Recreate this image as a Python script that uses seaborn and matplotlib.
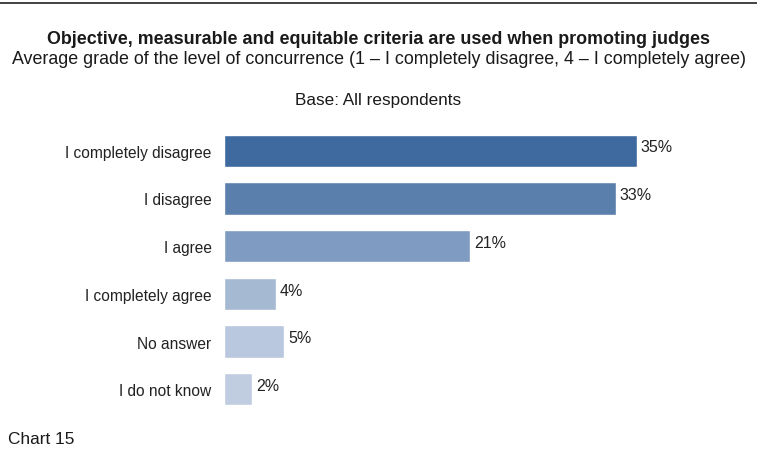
import matplotlib
matplotlib.use("Agg")
import matplotlib.pyplot as plt
import seaborn as sns
import pandas as pd

# data
answers = ["I completely disagree", "I disagree", "I agree",
           "I completely agree", "No answer", "I do not know"]
shares = [35.0, 33.2, 20.9, 4.4, 5.1, 2.4]
bar_colors = ["#3e6a9f", "#5b7fad", "#7f9bc1", "#a6b9d3", "#b9c8de", "#c0cde1"]

df = pd.DataFrame({"answer": answers, "share": shares})

sns.set_style("white")
plt.rcParams['font.family'] = ['Liberation Sans', 'DejaVu Sans']

fig = plt.figure(figsize=(7.57, 4.52), dpi=100)
ax = fig.add_axes([0.296, 0.084, 0.623, 0.633])

sns.barplot(data=df, x="share", y="answer", hue="answer", palette=bar_colors,
            legend=False, width=0.68, ax=ax, saturation=1)

for i, v in enumerate(shares):
    ax.text(v + 0.35, i - 0.08, f"{v:.0f}%", va="center", ha="left",
            fontsize=11.5, color="#222222")

ax.set_xlim(0, 40)
ax.set_ylim(5.5, -0.5)
ax.set_xlabel("")
ax.set_ylabel("")
ax.set_xticks([])
ax.tick_params(axis="y", length=0, pad=9, labelsize=11.2, labelcolor="#222222")
sns.despine(ax=ax, left=True, bottom=True)

# titles and frame line
fig.text(0.5, 1 - 40 / 452, "Objective, measurable and equitable criteria are used when promoting judges",
         ha="center", va="center", fontsize=12.9, fontweight="bold", color="#1a1a1a")
fig.text(0.5, 1 - 59 / 452, "Average grade of the level of concurrence (1 \u2013 I completely disagree, 4 \u2013 I completely agree)",
         ha="center", va="center", fontsize=12.9, color="#1a1a1a")
fig.text(0.5, 1 - 100 / 452, "Base: All respondents",
         ha="center", va="center", fontsize=12.3, color="#1a1a1a")
fig.text(8 / 757, 1 - 440 / 452, "Chart 15", ha="left", va="center",
         fontsize=12.4, color="#1a1a1a")
fig.add_artist(plt.Line2D([0, 1], [1 - 4 / 452, 1 - 4 / 452], color="#222222", lw=1.2))

fig.savefig("out.png", dpi=100)
